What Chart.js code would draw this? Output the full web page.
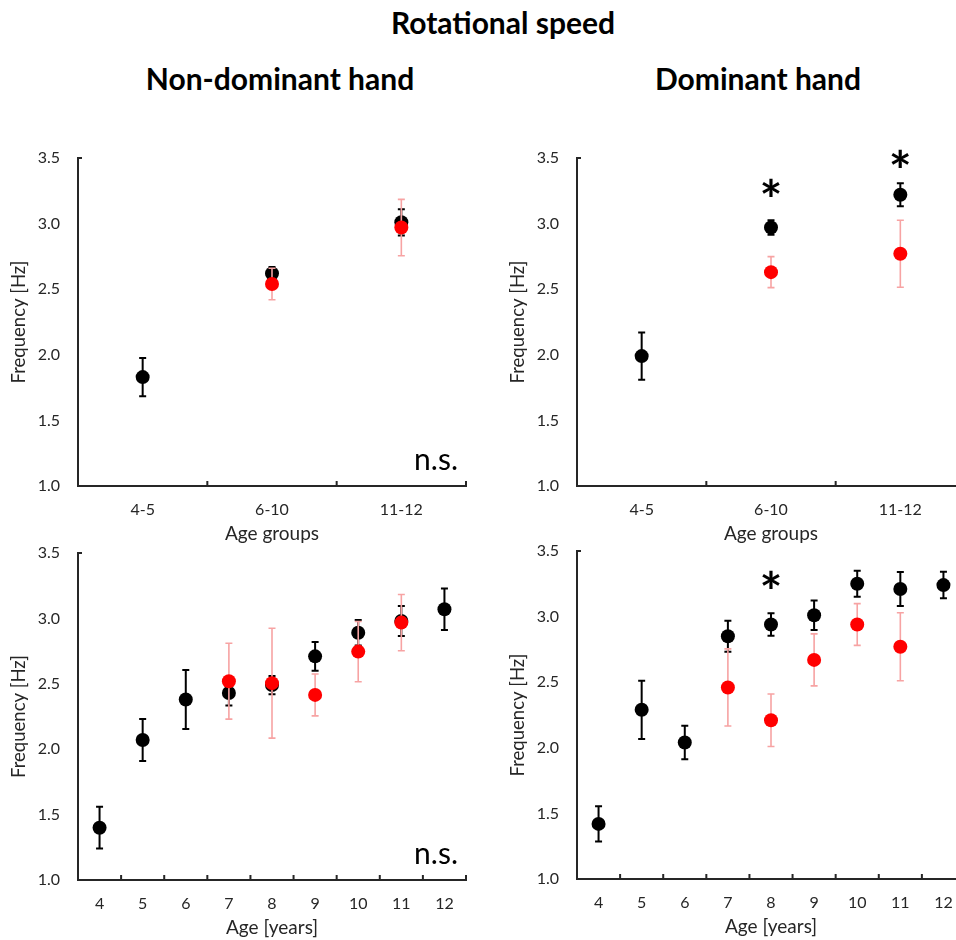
<!DOCTYPE html>
<html>
<head>
    <title>Rotational speed</title>
    <script src="https://cdn.jsdelivr.net/npm/chart.js@4/dist/chart.umd.min.js"></script>
    <style>
        body {
            margin: 0;
            width: 956px;
            height: 940px;
            overflow: hidden;
            position: relative;
            background: #fff;
            font-family: Lato, "Open Sans", sans-serif;
        }
        .title {
            position: absolute;
            font-weight: bold;
            font-size: 30px;
            color: #000;
            text-align: center;
            white-space: nowrap;
        }
        canvas {
            position: absolute;
        }
    </style>
</head>
<body>
    <div class="title" style="left:0; width:1006px; top:4px;">Rotational speed</div>
    <div class="title" style="left:80px; width:400px; top:60px;">Non-dominant hand</div>
    <div class="title" style="left:558px; width:400px; top:60px;">Dominant hand</div>

    <canvas id="ndGroup" width="480" height="430" style="left:0; top:120px;"></canvas>
    <canvas id="dGroup" width="480" height="430" style="left:499px; top:120px;"></canvas>
    <canvas id="ndAge" width="480" height="429" style="left:0; top:515px;"></canvas>
    <canvas id="dAge" width="480" height="430" style="left:499px; top:513px;"></canvas>

    <script>
        // categories
        const groupLabels = ['4-5', '6-10', '11-12'];
        const ageLabels = ['4', '5', '6', '7', '8', '9', '10', '11', '12'];

        // non-dominant hand, age groups
        const ndGroupBlack = [1.83, 2.62, 3.01];
        const ndGroupBlackErr = [0.145, 0.05, 0.10];
        const ndGroupRed = [null, 2.54, 2.97];
        const ndGroupRedErr = [null, 0.12, 0.215];

        // dominant hand, age groups
        const dGroupBlack = [1.99, 2.97, 3.22];
        const dGroupBlackErr = [0.18, 0.055, 0.088];
        const dGroupRed = [null, 2.63, 2.77];
        const dGroupRedErr = [null, 0.118, 0.255];
        const dGroupStars = [null, 3.27, 3.49];

        // non-dominant hand, single years
        const ndAgeBlack = [1.40, 2.07, 2.38, 2.43, 2.49, 2.71, 2.89, 2.98, 3.07];
        const ndAgeBlackErr = [0.16, 0.16, 0.225, 0.095, 0.07, 0.11, 0.097, 0.115, 0.158];
        const ndAgeRed = [null, null, null, 2.52, 2.505, 2.415, 2.746, 2.968, null];
        const ndAgeRedErr = [null, null, null, 0.29, 0.42, 0.16, 0.23, 0.215, null];

        // dominant hand, single years
        const dAgeBlack = [1.42, 2.29, 2.04, 2.85, 2.94, 3.01, 3.25, 3.21, 3.24];
        const dAgeBlackErr = [0.135, 0.222, 0.128, 0.118, 0.086, 0.112, 0.099, 0.129, 0.101];
        const dAgeRed = [null, null, null, 2.46, 2.21, 2.67, 2.94, 2.77, null];
        const dAgeRedErr = [null, null, null, 0.294, 0.2, 0.198, 0.159, 0.259, null];
        const dAgeStars = [null, null, null, null, 3.28, null, null, null, null];

        const yTicks = [1.0, 1.5, 2.0, 2.5, 3.0, 3.5];

        const axisColor = '#262626';
        const textColor = '#262626';
        const fontFamily = 'Lato, "Open Sans", sans-serif';

        // error bars drawn just before each dataset's points
        const errorBars = {
            id: 'errorBars',
            beforeDatasetDraw(chart, args) {
                const ds = chart.data.datasets[args.index];
                const y = chart.scales.y;
                const ctx = chart.ctx;
                ctx.save();
                ctx.strokeStyle = ds.errColor;
                ctx.lineWidth = ds.errWidth;
                args.meta.data.forEach((pt, i) => {
                    const v = ds.data[i], e = ds.errors[i];
                    if (v == null || e == null) return;
                    const top = y.getPixelForValue(v + e);
                    const bot = y.getPixelForValue(v - e);
                    const cap = 3.5;
                    ctx.beginPath();
                    ctx.moveTo(pt.x, top); ctx.lineTo(pt.x, bot);
                    ctx.moveTo(pt.x - cap, top); ctx.lineTo(pt.x + cap, top);
                    ctx.moveTo(pt.x - cap, bot); ctx.lineTo(pt.x + cap, bot);
                    ctx.stroke();
                });
                ctx.restore();
            }
        };

        // inner tick marks, significance stars and "n.s." label
        const decorations = {
            id: 'decorations',
            afterDraw(chart, args, opts) {
                const {ctx, chartArea, scales: {x, y}} = chart;
                ctx.save();
                ctx.strokeStyle = axisColor;
                ctx.lineWidth = 2;
                ctx.beginPath();
                for (let i = 0; i < x.ticks.length; i++) {
                    const bx = x.getPixelForValue(i + 0.5);
                    ctx.moveTo(bx, chartArea.bottom);
                    ctx.lineTo(bx, chartArea.bottom - 5);
                }
                ctx.moveTo(chartArea.left, chartArea.top);
                ctx.lineTo(chartArea.left + 4, chartArea.top);
                ctx.stroke();

                ctx.fillStyle = '#000';
                if (opts.stars) {
                    ctx.font = 'bold 54px ' + fontFamily;
                    ctx.textAlign = 'center';
                    ctx.textBaseline = 'alphabetic';
                    opts.stars.forEach((v, i) => {
                        if (v == null) return;
                        ctx.fillText('*', x.getPixelForValue(i), y.getPixelForValue(v) + 31);
                    });
                }
                if (opts.ns) {
                    ctx.font = '30px ' + fontFamily;
                    ctx.textAlign = 'right';
                    ctx.textBaseline = 'alphabetic';
                    ctx.fillStyle = '#000';
                    ctx.fillText('n.s.', chartArea.right - 8, chartArea.bottom - 16);
                }
                ctx.restore();
            }
        };

        function makeChart(id, labels, black, blackErr, red, redErr, xTitle, extra) {
            return new Chart(document.getElementById(id), {
                type: 'line',
                data: {
                    labels: labels,
                    datasets: [
                        {
                            label: 'red',
                            data: red,
                            errors: redErr,
                            errColor: '#f7a3a3',
                            errWidth: 1.6,
                            showLine: false,
                            pointRadius: 7,
                            pointBackgroundColor: '#ff0000',
                            pointBorderColor: '#ff0000',
                            pointBorderWidth: 0
                        },
                        {
                            label: 'black',
                            data: black,
                            errors: blackErr,
                            errColor: '#000',
                            errWidth: 2,
                            showLine: false,
                            pointRadius: 7,
                            pointBackgroundColor: '#000',
                            pointBorderColor: '#000',
                            pointBorderWidth: 0
                        }
                    ]
                },
                options: {
                    responsive: false,
                    animation: false,
                    layout: { padding: { top: 38, right: 14, left: 0, bottom: 0 } },
                    plugins: {
                        legend: { display: false },
                        tooltip: { enabled: false },
                        decorations: extra
                    },
                    scales: {
                        x: {
                            type: 'category',
                            offset: true,
                            grid: { display: false, drawTicks: false },
                            border: { display: true, color: axisColor, width: 2 },
                            ticks: {
                                color: textColor,
                                font: { family: fontFamily, size: 16 },
                                padding: 14,
                                autoSkip: false,
                                maxRotation: 0
                            },
                            title: {
                                display: true,
                                text: xTitle,
                                color: textColor,
                                font: { family: fontFamily, size: 19 },
                                padding: { top: 0, bottom: 5 }
                            },
                            afterFit(scale) { scale.height = 64; }
                        },
                        y: {
                            min: 1,
                            max: 3.5,
                            afterBuildTicks(scale) { scale.ticks = yTicks.map(v => ({ value: v })); },
                            grid: { display: false, drawTicks: false },
                            border: { display: true, color: axisColor, width: 2 },
                            ticks: {
                                color: textColor,
                                font: { family: fontFamily, size: 16 },
                                padding: 18,
                                callback: v => Number(v).toFixed(1)
                            },
                            title: {
                                display: true,
                                text: 'Frequency [Hz]',
                                color: textColor,
                                font: { family: fontFamily, size: 18.5 },
                                padding: { top: 8, bottom: 0 }
                            },
                            afterFit(scale) { scale.width = 78; }
                        }
                    }
                },
                plugins: [errorBars, decorations]
            });
        }

        makeChart('ndGroup', groupLabels, ndGroupBlack, ndGroupBlackErr, ndGroupRed, ndGroupRedErr,
            'Age groups', { ns: true });
        makeChart('dGroup', groupLabels, dGroupBlack, dGroupBlackErr, dGroupRed, dGroupRedErr,
            'Age groups', { stars: dGroupStars });
        makeChart('ndAge', ageLabels, ndAgeBlack, ndAgeBlackErr, ndAgeRed, ndAgeRedErr,
            'Age [years]', { ns: true });
        makeChart('dAge', ageLabels, dAgeBlack, dAgeBlackErr, dAgeRed, dAgeRedErr,
            'Age [years]', { stars: dAgeStars });
    </script>
</body>
</html>
